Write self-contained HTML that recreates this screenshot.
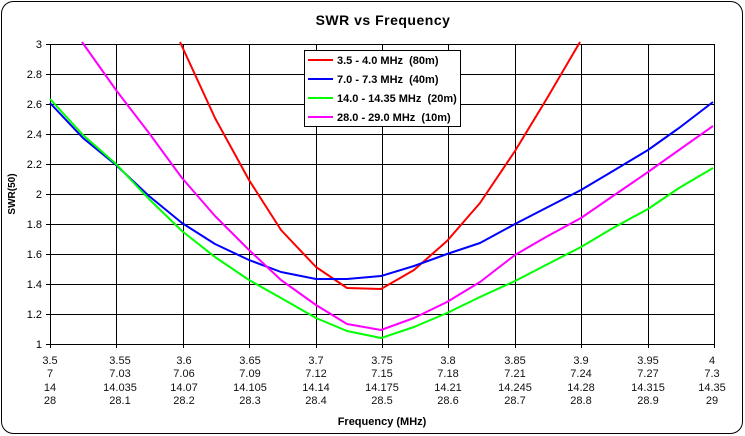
<!DOCTYPE html>
<html><head><meta charset="utf-8"><style>
body{margin:0;background:#fff}
svg{display:block}
text{font-family:"Liberation Sans",Arial,sans-serif}
</style></head><body>
<svg width="745" height="436" viewBox="0 0 745 436" xmlns="http://www.w3.org/2000/svg">
<rect x="0" y="0" width="745" height="436" fill="#fff"/>
<rect x="1.5" y="1.5" width="741" height="432" rx="12" ry="12" fill="#fff" stroke="#000" stroke-width="1"/>
<text x="383" y="25" text-anchor="middle" font-size="14" font-weight="bold" letter-spacing="0.5">SWR  vs  Frequency</text>
<g stroke="#000" stroke-width="1">
<line x1="46" y1="44.5" x2="714" y2="44.5"/><line x1="46" y1="74.5" x2="714" y2="74.5"/><line x1="46" y1="104.5" x2="714" y2="104.5"/><line x1="46" y1="134.5" x2="714" y2="134.5"/><line x1="46" y1="164.5" x2="714" y2="164.5"/><line x1="46" y1="194.5" x2="714" y2="194.5"/><line x1="46" y1="224.5" x2="714" y2="224.5"/><line x1="46" y1="254.5" x2="714" y2="254.5"/><line x1="46" y1="284.5" x2="714" y2="284.5"/><line x1="46" y1="314.5" x2="714" y2="314.5"/><line x1="46" y1="344.5" x2="714" y2="344.5"/>
<line x1="50.5" y1="44" x2="50.5" y2="348"/><line x1="116.5" y1="44" x2="116.5" y2="348"/><line x1="183.5" y1="44" x2="183.5" y2="348"/><line x1="249.5" y1="44" x2="249.5" y2="348"/><line x1="316.5" y1="44" x2="316.5" y2="348"/><line x1="382.5" y1="44" x2="382.5" y2="348"/><line x1="448.5" y1="44" x2="448.5" y2="348"/><line x1="515.5" y1="44" x2="515.5" y2="348"/><line x1="581.5" y1="44" x2="581.5" y2="348"/><line x1="648.5" y1="44" x2="648.5" y2="348"/><line x1="714.5" y1="44" x2="714.5" y2="348"/>
</g>
<g font-size="11" text-anchor="end">
<text x="42" y="48">3</text><text x="42" y="78">2.8</text><text x="42" y="108">2.6</text><text x="42" y="138">2.4</text><text x="42" y="168">2.2</text><text x="42" y="198">2</text><text x="42" y="228">1.8</text><text x="42" y="258">1.6</text><text x="42" y="288">1.4</text><text x="42" y="318">1.2</text><text x="42" y="348">1</text>
</g>
<text transform="translate(15,194) rotate(-90)" text-anchor="middle" font-size="10" font-weight="bold">SWR(50)</text>
<g font-size="11" text-anchor="middle" fill="#111">
<text x="50" y="364">3.5</text><text x="50" y="377">7</text><text x="50" y="391">14</text><text x="50" y="404">28</text>
<text x="120" y="364">3.55</text><text x="120" y="377">7.03</text><text x="120" y="391">14.035</text><text x="120" y="404">28.1</text>
<text x="184" y="364">3.6</text><text x="184" y="377">7.06</text><text x="184" y="391">14.07</text><text x="184" y="404">28.2</text>
<text x="250" y="364">3.65</text><text x="250" y="377">7.09</text><text x="250" y="391">14.105</text><text x="250" y="404">28.3</text>
<text x="316" y="364">3.7</text><text x="316" y="377">7.12</text><text x="316" y="391">14.14</text><text x="316" y="404">28.4</text>
<text x="382" y="364">3.75</text><text x="382" y="377">7.15</text><text x="382" y="391">14.175</text><text x="382" y="404">28.5</text>
<text x="448" y="364">3.8</text><text x="448" y="377">7.18</text><text x="448" y="391">14.21</text><text x="448" y="404">28.6</text>
<text x="515" y="364">3.85</text><text x="515" y="377">7.21</text><text x="515" y="391">14.245</text><text x="515" y="404">28.7</text>
<text x="581" y="364">3.9</text><text x="581" y="377">7.24</text><text x="581" y="391">14.28</text><text x="581" y="404">28.8</text>
<text x="648" y="364">3.95</text><text x="648" y="377">7.27</text><text x="648" y="391">14.315</text><text x="648" y="404">28.9</text>
<text x="712" y="364">4</text><text x="712" y="377">7.3</text><text x="712" y="391">14.35</text><text x="712" y="404">29</text>
</g>
<text x="382" y="425" text-anchor="middle" font-size="11" font-weight="bold">Frequency (MHz)</text>
<g fill="none" stroke-width="2" stroke-linejoin="round">
<polyline stroke="#ff0000" points="180,42 215,118 249,180 281,230 316,267 347,288 381,289 414,270 447,241 480,203 515,151 546,100 580,42"/>
<polyline stroke="#0000ff" points="50,103 83,138 116,165 149,196 182,223 215,244 249,260 281,272 316,279 347,279 381,276 414,266 447,254 480,243 515,224 546,208 581,190 613,171 648,150 679,128 713,102"/>
<polyline stroke="#00ff00" points="50,99 83,135 116,164 149,199 182,231 215,257 249,280 281,298 316,318 347,331 381,338 414,327 447,313 480,297 515,281 546,265 581,247 613,228 648,209 679,188 713,168"/>
<polyline stroke="#ff00ff" points="82,42 116,90 149,133 182,178 215,216 249,250 281,280 316,305 347,324 381,330 414,318 447,302 480,282 515,255 546,237 581,218 613,196 648,172 679,150 713,126"/>
</g>
<rect x="304.5" y="50.5" width="156" height="76" fill="#fff" stroke="#000"/>
<g stroke-width="2">
<line x1="308" y1="60" x2="333" y2="60" stroke="#ff0000"/>
<line x1="308" y1="79" x2="333" y2="79" stroke="#0000ff"/>
<line x1="308" y1="98" x2="333" y2="98" stroke="#00ff00"/>
<line x1="308" y1="117" x2="333" y2="117" stroke="#ff00ff"/>
</g>
<g font-size="11" font-weight="bold">
<text x="337" y="64" xml:space="preserve">3.5 - 4.0 MHz  (80m)</text>
<text x="337" y="83" xml:space="preserve">7.0 - 7.3 MHz  (40m)</text>
<text x="337" y="102" xml:space="preserve">14.0 - 14.35 MHz  (20m)</text>
<text x="337" y="121" xml:space="preserve">28.0 - 29.0 MHz  (10m)</text>
</g>
</svg>
</body></html>
